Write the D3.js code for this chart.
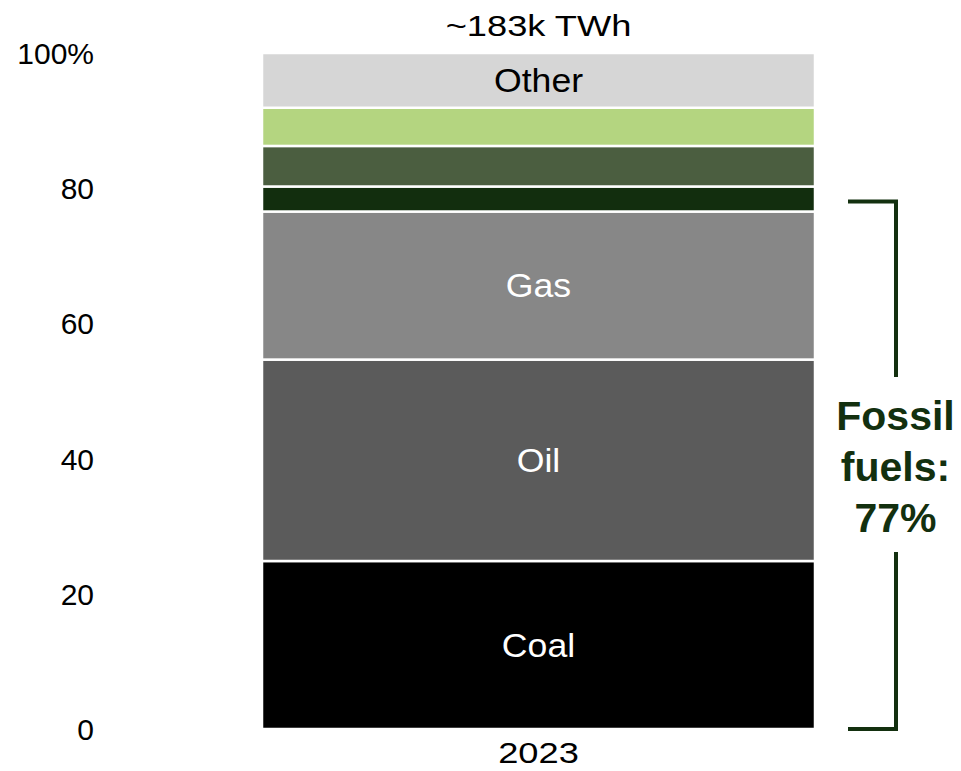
<!DOCTYPE html>
<html>
<head>
<meta charset="utf-8">
<script src="https://cdn.jsdelivr.net/npm/d3@7"></script>
<style>
  html, body { margin: 0; padding: 0; background: #fff; }
  svg text { font-family: "Liberation Sans", Arial, Helvetica, sans-serif; }
</style>
</head>
<body>
<svg id="chart" width="961" height="771"></svg>
<script>
// ---- Data ----
const category = ["2023"];
const segments = ["Coal", "Oil", "Gas", "Dark green", "Mid green", "Light green", "Other"];
const shares = [24.85, 29.8, 21.9, 3.7, 6.0, 5.65, 8.1];
const segmentLabels = ["Coal", "Oil", "Gas", "", "", "", "Other"];
const segmentColors = ["#000000", "#5b5b5b", "#878787", "#122e0e", "#4b5e40", "#b4d580", "#d6d6d6"];
const labelColors = ["#ffffff", "#ffffff", "#ffffff", "#ffffff", "#ffffff", "#000000", "#000000"];
const yTicks = [0, 20, 40, 60, 80, 100];
const totalLabel = "~183k TWh";
const fossilLines = ["Fossil", "fuels:", "77%"];
const fossilCount = 3;

// ---- Layout ----
const svg = d3.select("#chart");
const y = d3.scaleLinear().domain([0, 100]).range([729, 53]);
const x = d3.scaleBand().domain(category).range([262, 815]).padding(0);
const cx = x("2023") + x.bandwidth() / 2;

let acc = 0;
const stacked = shares.map((v, i) => {
  const d = { name: segments[i], y0: acc, y1: acc + v, label: segmentLabels[i], color: segmentColors[i], lc: labelColors[i] };
  acc += v;
  return d;
});

// bars
svg.append("g").selectAll("rect").data(stacked).join("rect")
  .attr("x", x("2023"))
  .attr("width", x.bandwidth())
  .attr("y", d => y(d.y1))
  .attr("height", d => y(d.y0) - y(d.y1))
  .attr("fill", d => d.color)
  .attr("stroke", "#ffffff")
  .attr("stroke-width", 2.5);

// segment labels
svg.append("g").selectAll("text").data(stacked.filter(d => d.label)).join("text")
  .attr("transform", d => `translate(${cx},${(y(d.y0) + y(d.y1)) / 2}) scale(1.08,1)`)
  .attr("text-anchor", "middle")
  .attr("dy", "0.35em")
  .attr("font-size", 33)
  .attr("fill", d => d.lc)
  .text(d => d.label);

// y axis (labels only)
const yAxis = d3.axisLeft(y).tickValues(yTicks).tickSize(0).tickPadding(0)
  .tickFormat(d => d === 100 ? "100%" : d);
const gy = svg.append("g").attr("transform", "translate(94,0)").call(yAxis);
gy.select(".domain").remove();
gy.selectAll("text")
  .attr("font-size", 30)
  .attr("font-family", "Liberation Sans, Arial, sans-serif")
  .attr("fill", "#000")
  .attr("dy", "0.35em");

// x axis (category label)
const xAxis = d3.axisBottom(x).tickSize(0).tickPadding(0);
const gx = svg.append("g").attr("transform", "translate(0,763)").call(xAxis);
gx.select(".domain").remove();
gx.selectAll(".tick").attr("transform", `translate(${cx},0) scale(1.25,1)`);
gx.selectAll("text")
  .attr("font-size", 29)
  .attr("font-family", "Liberation Sans, Arial, sans-serif")
  .attr("fill", "#000")
  .attr("y", 0)
  .attr("dy", 0);

// total label
svg.append("text")
  .attr("transform", `translate(${cx},36) scale(1.25,1)`)
  .attr("text-anchor", "middle")
  .attr("font-size", 29)
  .attr("fill", "#000")
  .text(totalLabel);

// fossil bracket
const fossilTotal = d3.sum(shares.slice(0, fossilCount));
const bx = 896, bl = 848;
const bTop = y(fossilTotal) - 10, bBot = y(0);
const bracketColor = "#13300f";
svg.append("path")
  .attr("d", `M${bl},${bTop}H${bx}V377M${bx},552V${bBot}H${bl}`)
  .attr("fill", "none")
  .attr("stroke", bracketColor)
  .attr("stroke-width", 4);

svg.append("g").selectAll("text").data(fossilLines).join("text")
  .attr("x", 895.5)
  .attr("y", (d, i) => 430 + i * 51)
  .attr("text-anchor", "middle")
  .attr("font-size", 41)
  .attr("font-weight", "bold")
  .attr("fill", bracketColor)
  .text(d => d);
</script>
</body>
</html>
